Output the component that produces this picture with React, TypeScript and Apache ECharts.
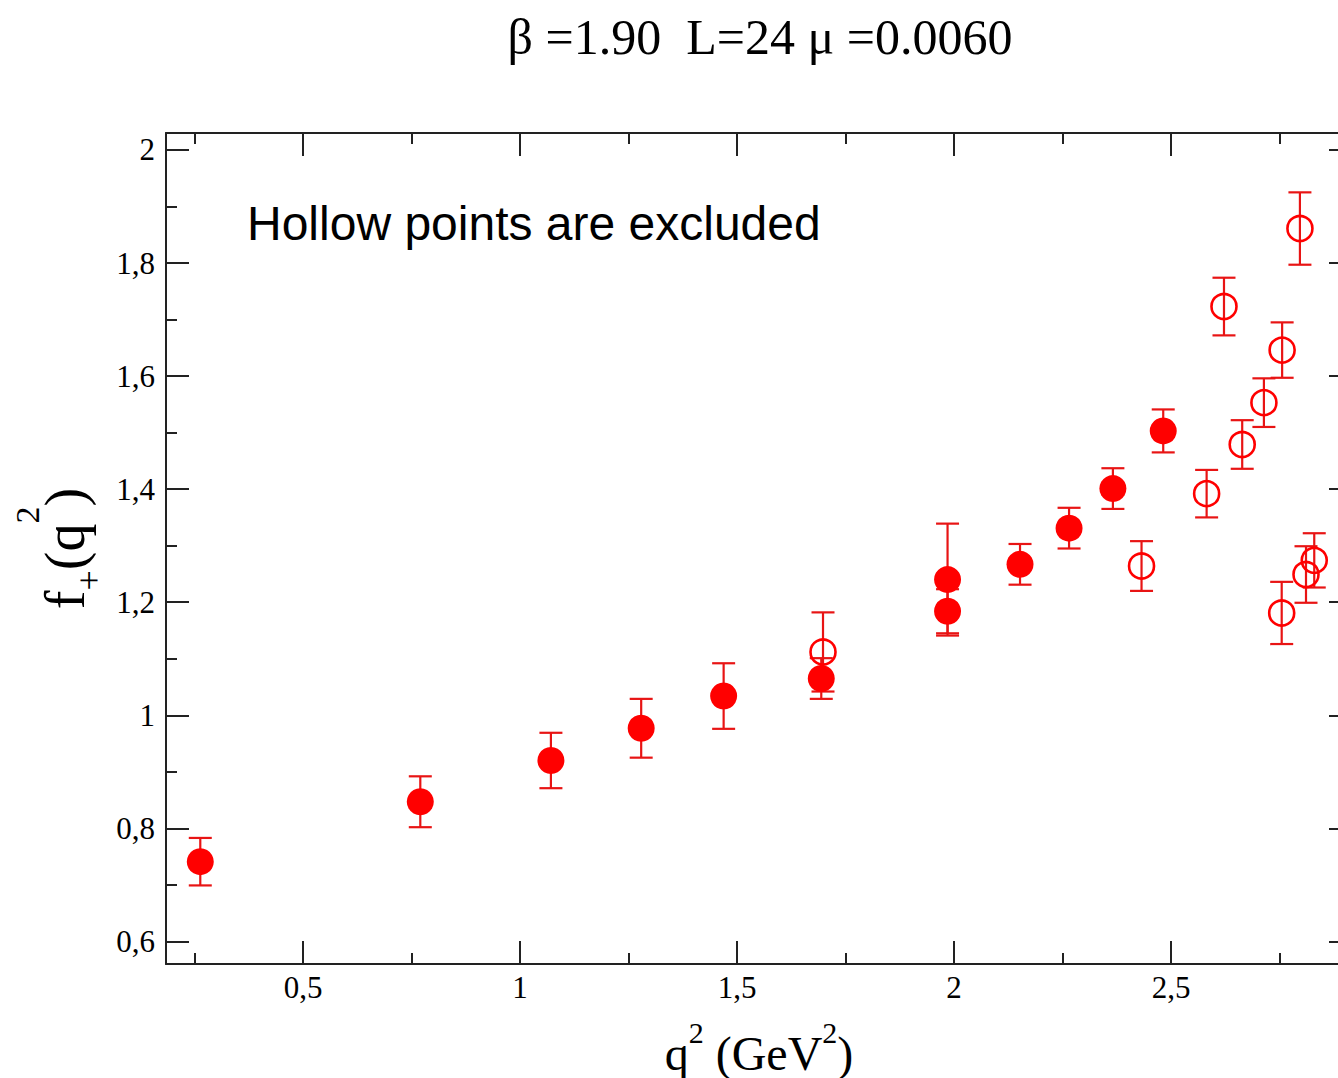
import React, { useEffect, useRef } from "react";
import * as echarts from "echarts";

// Filled (included) points: q^2, f+(q^2), error
const FILLED_Q2 = [0.263, 0.770, 1.071, 1.279, 1.469, 1.694, 1.985, 1.985, 2.152, 2.265, 2.366, 2.482];
const FILLED_F = [0.741, 0.847, 0.920, 0.977, 1.034, 1.065, 1.184, 1.240, 1.267, 1.331, 1.401, 1.503];
const FILLED_ERR = [0.042, 0.045, 0.049, 0.052, 0.058, 0.036, 0.039, 0.099, 0.036, 0.036, 0.036, 0.038];

// Hollow (excluded) points
const HOLLOW_Q2 = [1.698, 2.432, 2.582, 2.622, 2.664, 2.714, 2.756, 2.797, 2.755, 2.811, 2.830];
const HOLLOW_F = [1.112, 1.264, 1.392, 1.723, 1.479, 1.553, 1.646, 1.861, 1.181, 1.249, 1.274];
const HOLLOW_ERR = [0.070, 0.044, 0.042, 0.051, 0.043, 0.043, 0.049, 0.064, 0.055, 0.050, 0.048];

// Axis ranges and ticks
const X_MIN = 0.184;
const X_MAX = 2.917;
const Y_MIN = 0.56;
const Y_MAX = 2.03;
const X_MAJOR = [0.5, 1, 1.5, 2, 2.5];
const X_MINOR = [0.25, 0.75, 1.25, 1.75, 2.25, 2.75];
const Y_MAJOR = [0.6, 0.8, 1, 1.2, 1.4, 1.6, 1.8, 2];
const Y_MINOR = [0.7, 0.9, 1.1, 1.3, 1.5, 1.7, 1.9];

const TITLE = "β =1.90  L=24 μ =0.0060";
const NOTE = "Hollow points are excluded";

const RED = "#ff0000";
const ERR_RED = "#e81414";
const AXIS_COLOR = "#222";
const SERIF = "'Liberation Serif', 'Times New Roman', serif";
const SANS = "'Liberation Sans', Arial, sans-serif";

const fmt = (v: number) => String(v).replace(".", ",");

function axisSet(kind: "x" | "y") {
  const isX = kind === "x";
  const min = isX ? X_MIN : Y_MIN;
  const max = isX ? X_MAX : Y_MAX;
  const major = isX ? X_MAJOR : Y_MAJOR;
  const minor = isX ? X_MINOR : Y_MINOR;
  const pos1 = isX ? "bottom" : "left";
  const pos2 = isX ? "top" : "right";
  const lineStyle = { color: AXIS_COLOR, width: 2 };
  const base = (position: string, ticks: number[], len: number, showLine: boolean) => ({
    type: "value",
    position,
    min,
    max,
    splitLine: { show: false },
    axisLine: { show: showLine, onZero: false, lineStyle },
    axisTick: { show: true, inside: true, length: len, customValues: ticks, lineStyle },
    axisLabel: { show: false, customValues: ticks },
    nameMoveOverlap: false,
  });
  const main: any = base(pos1, major, 23, true);
  main.axisLabel = {
    show: true,
    customValues: major,
    formatter: fmt,
    fontFamily: SERIF,
    fontSize: 31,
    color: "#000",
    margin: isX ? 8 : 11,
  };
  if (isX) {
    main.name = "{m|q}{s|2}{m| (GeV}{s|2}{m|)}";
    main.nameLocation = "middle";
    main.nameGap = 53;
    main.nameTextStyle = {
      rich: {
        m: { fontFamily: SERIF, fontSize: 48, color: "#000", verticalAlign: "bottom" },
        s: { fontFamily: SERIF, fontSize: 30, color: "#000", verticalAlign: "bottom", padding: [0, 0, 30, 0] },
      },
    };
  } else {
    main.name = "{m|f}{b|+}{m|(q}{s|2}{m|)}";
    main.nameLocation = "middle";
    main.nameRotate = 90;
    main.nameGap = 59;
    main.nameTextStyle = {
      rich: {
        m: { fontFamily: SERIF, fontSize: 56, color: "#000", verticalAlign: "bottom", padding: [0, 0, 14, 0] },
        b: { fontFamily: SERIF, fontSize: 36, color: "#000", verticalAlign: "bottom" },
        s: { fontFamily: SERIF, fontSize: 34, color: "#000", verticalAlign: "bottom", padding: [0, 0, 63, 0] },
      },
    };
  }
  return [
    main,
    base(pos1, minor, 11, false),
    base(pos2, major, 23, true),
    base(pos2, minor, 11, false),
  ];
}

function errorSeries(q: number[], f: number[], e: number[]) {
  return {
    type: "custom",
    xAxisIndex: 0,
    yAxisIndex: 0,
    z: 2,
    clip: false,
    encode: { x: 0, y: 1 },
    data: q.map((x, i) => [x, f[i], e[i]]),
    renderItem: (params: any, api: any) => {
      const x = api.value(0);
      const y = api.value(1);
      const err = api.value(2);
      const top = api.coord([x, y + err]);
      const bot = api.coord([x, y - err]);
      const hw = 11.5;
      const style = { stroke: ERR_RED, lineWidth: 2.2 };
      return {
        type: "group",
        children: [
          { type: "line", shape: { x1: top[0], y1: top[1], x2: bot[0], y2: bot[1] }, style },
          { type: "line", shape: { x1: top[0] - hw, y1: top[1], x2: top[0] + hw, y2: top[1] }, style },
          { type: "line", shape: { x1: bot[0] - hw, y1: bot[1], x2: bot[0] + hw, y2: bot[1] }, style },
        ],
      };
    },
  };
}

export default function App() {
  const ref = useRef<HTMLDivElement>(null);
  useEffect(() => {
    if (!ref.current) return;
    const chart = echarts.init(ref.current, undefined, { renderer: "svg" });
    const option: any = {
      animation: false,
      backgroundColor: "#fff",
      grid: {
        left: 166,
        top: 133,
        width: 1186,
        height: 831,
        containLabel: false,
        outerBoundsMode: "none",
      },
      xAxis: axisSet("x"),
      yAxis: axisSet("y"),
      graphic: [
        {
          type: "text",
          x: 760,
          y: 37,
          style: {
            text: TITLE,
            fontFamily: SERIF,
            fontSize: 50,
            fill: "#000",
            align: "center",
            verticalAlign: "middle",
          },
        },
        {
          type: "text",
          x: 247,
          y: 223,
          style: {
            text: NOTE,
            fontFamily: SANS,
            fontSize: 48,
            fill: "#000",
            align: "left",
            verticalAlign: "middle",
          },
        },
      ],
      series: [
        errorSeries(HOLLOW_Q2, HOLLOW_F, HOLLOW_ERR),
        errorSeries(FILLED_Q2, FILLED_F, FILLED_ERR),
        {
          type: "scatter",
          z: 3,
          symbol: "circle",
          symbolSize: 25,
          itemStyle: { color: "rgba(255,255,255,0)", borderColor: RED, borderWidth: 2.6, opacity: 1 },
          data: HOLLOW_Q2.map((x, i) => [x, HOLLOW_F[i]]),
        },
        {
          type: "scatter",
          z: 4,
          symbol: "circle",
          symbolSize: 27,
          itemStyle: { color: RED, opacity: 1 },
          data: FILLED_Q2.map((x, i) => [x, FILLED_F[i]]),
        },
      ],
    };
    chart.setOption(option);
    return () => chart.dispose();
  }, []);
  return (
    <div
      ref={ref}
      style={{ position: "fixed", left: 0, top: 0, width: 1338, height: 1078, background: "#fff" }}
    />
  );
}
